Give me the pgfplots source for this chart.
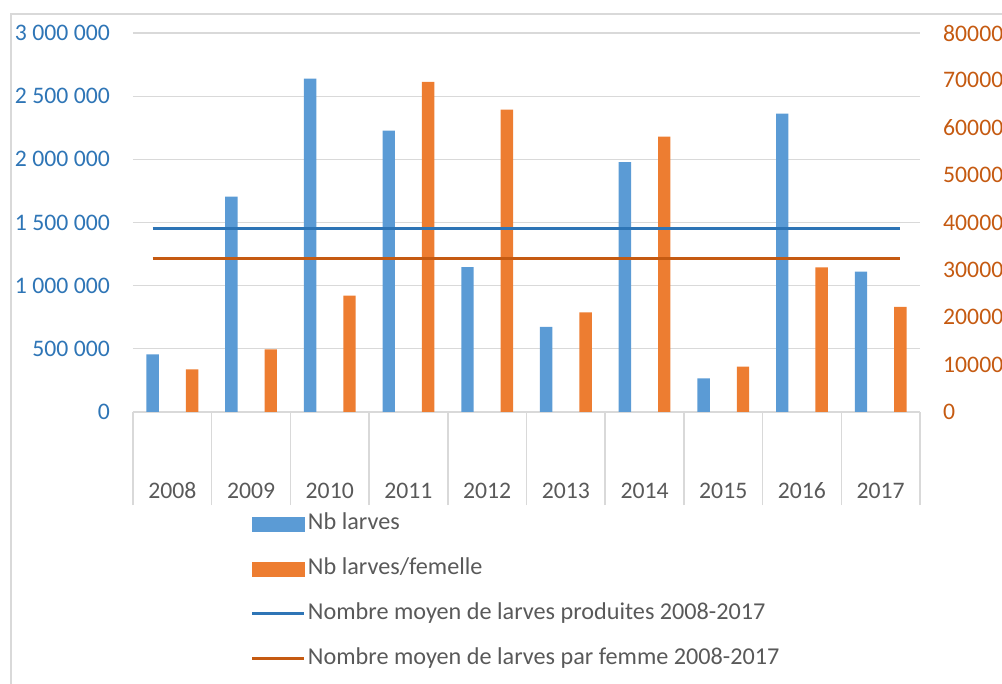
\documentclass[border=0pt]{standalone}
\usepackage{pgfplots}
\pgfplotsset{compat=1.18}
\usepackage{fontspec}
\setmainfont{Carlito}
\definecolor{barblue}{RGB}{91,155,213}
\definecolor{barorange}{RGB}{237,125,49}
\definecolor{lineblue}{RGB}{46,117,182}
\definecolor{lineorange}{RGB}{197,90,17}
\definecolor{gridgray}{RGB}{217,217,217}
\definecolor{textgray}{RGB}{89,89,89}
\newcommand{\chartfont}{\fontsize{23.7}{28}\selectfont}
\newcommand{\legfont}{\fontsize{24.2}{29}\selectfont}

\begin{document}
\begin{tikzpicture}
\useasboundingbox (0,0) rectangle (1002pt,684pt);
\begin{scope}
\clip (0,0) rectangle (1002pt,684pt);
\draw[gridgray, line width=2pt] (11pt,-20pt) -- (11pt,670pt) -- (1030pt,670pt);
\end{scope}

\pgfplotsset{common/.style={
  at={(133pt,272pt)}, anchor=south west,
  scale only axis, width=787pt, height=379pt,
  xmin=-0.5, xmax=9.5,
  ymin=0,
  /pgf/number format/assume math mode=true,
  tick label style={font=\chartfont},
  major tick length=0pt,
  scaled y ticks=false,
  clip=false,
}}

% Axis 1: left scale, blue bars
\begin{axis}[common,
  ymax=3000000, ytick={0,500000,1000000,1500000,2000000,2500000,3000000},
  axis y line*=left, y axis line style={draw=none},
  axis x line*=bottom, x axis line style={gridgray, line width=1.5pt, -},
  ymajorgrids, grid style={gridgray, line width=1.3pt},
  yticklabel style={text=lineblue, inner sep=0pt, xshift=-23pt},
  yticklabel={\pgfmathprintnumber[fixed, 1000 sep={\ }]{\tick}},
  xtick={0,1,2,3,4,5,6,7,8,9},
  xticklabels={2008,2009,2010,2011,2012,2013,2014,2015,2016,2017},
  xticklabel style={text=textgray, anchor=base, inner sep=0pt, yshift=-86.5pt},
  extra x ticks={-0.5,0.5,1.5,2.5,3.5,4.5,5.5,6.5,7.5,8.5,9.5},
  extra x tick labels={},
  extra x tick style={major tick length=93pt, tick align=outside, tick style={gridgray, line width=1.5pt}},
]
\addplot[ybar, bar width=12.4pt, bar shift=-19.7pt, fill=barblue, draw=none]
  coordinates {(0,457000) (1,1705000) (2,2639000) (3,2227000) (4,1146000)
               (5,673000) (6,1977000) (7,267000) (8,2362000) (9,1111000)};
\end{axis}

% Axis 2: right scale, orange bars and orange mean line
\begin{axis}[common,
  ymax=80000, ytick={0,10000,20000,30000,40000,50000,60000,70000,80000},
  axis y line*=right, y axis line style={draw=none},
  axis x line=none,
  yticklabel style={text=lineorange, inner sep=0pt, xshift=23pt},
  yticklabel={\pgfmathprintnumber[fixed, 1000 sep={}]{\tick}},
]
\addplot[ybar, bar width=12.4pt, bar shift=19.7pt, fill=barorange, draw=none]
  coordinates {(0,9000) (1,13240) (2,24560) (3,69700) (4,63850)
               (5,21050) (6,58150) (7,9570) (8,30550) (9,22175)};
\addplot[lineorange, line width=3pt, sharp plot, mark=none]
  coordinates {(-0.25,32300) (9.25,32300)};
\end{axis}

% Axis 3: left scale, blue mean line and legend
\begin{axis}[common,
  ymax=3000000, hide axis,
  legend cell align=left,
  legend style={draw=none, fill=none, inner sep=0pt, outer sep=0pt,
    at={(0.1499,-0.2665)}, anchor=north west,
    font=\legfont, text=textgray, row sep=23pt, column sep=2pt,
    nodes={inner sep=0pt, text height=17pt, text depth=5pt}},
]
\addplot[lineblue, line width=3pt, sharp plot, mark=none, forget plot]
  coordinates {(-0.25,1456400) (9.25,1456400)};
\addlegendimage{legend image code/.code={\fill[barblue] (0pt,-7pt) rectangle (52pt,7pt);}}
\addlegendentry{Nb larves}
\addlegendimage{legend image code/.code={\fill[barorange] (0pt,-7pt) rectangle (52pt,7pt);}}
\addlegendentry{Nb larves/femelle}
\addlegendimage{legend image code/.code={\draw[lineblue, line width=3pt] (0pt,0pt) -- (52pt,0pt);}}
\addlegendentry{Nombre moyen de larves produites 2008-2017}
\addlegendimage{legend image code/.code={\draw[lineorange, line width=3pt] (0pt,0pt) -- (52pt,0pt);}}
\addlegendentry{Nombre moyen de larves par femme 2008-2017}
\end{axis}
\end{tikzpicture}
\end{document}
